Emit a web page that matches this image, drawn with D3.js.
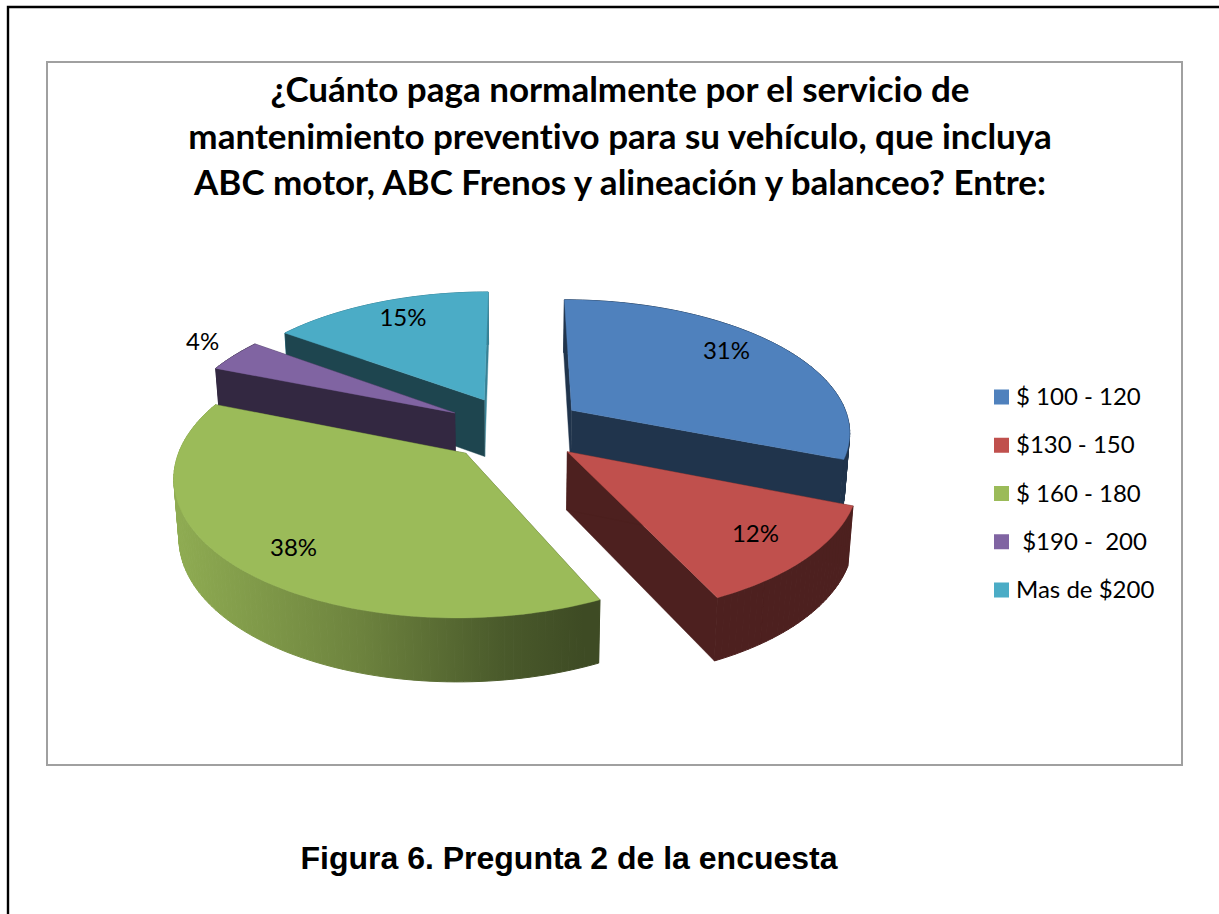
<!DOCTYPE html>
<html><head><meta charset="utf-8">
<script src="https://cdn.jsdelivr.net/npm/d3@7/dist/d3.min.js"></script>
<style>html,body{margin:0;padding:0;background:#fff;overflow:hidden}svg{display:block}text{white-space:pre;font-variant-ligatures:none}</style>
</head><body><svg id="c" width="1219" height="914"></svg>
<script>
const categories = ["$ 100 - 120", "$130 - 150", "$ 160 - 180", " $190 -  200", "Mas de $200"];
const values = [31, 12, 38, 4, 15];
const colors = ["#4f81bd", "#c0504d", "#9bbb59", "#8064a2", "#4bacc6"];
const rimShades = [0.4, 0.4, 0.7, 0.4, 0.75];
const labelRadii = [0.7, 0.9, 0.9, 1.07, 0.66];
const labelNudgeX = [8, -25, 30, -17, -9];
const labelNudgeY = [-12, -12, -7, -10, -15];
const titleLines = ["¿Cuánto paga normalmente por el servicio de",
  "mantenimiento preventivo para su vehículo, que incluya",
  "ABC motor, ABC Frenos y alineación y balanceo? Entre:"];
const caption = "Figura 6. Pregunta 2 de la encuesta";

const svg = d3.select("#c");
const FONT = "Lato, 'Open Sans', sans-serif";
const explode = 0.25, persp = 0.149, depth = 57.5, cx = 515;
const xS = d3.scaleLinear().domain([-1, 1]).range([cx - 279.5, cx + 279.5]);
const yS = d3.scaleLinear().domain([-1, 1]).range([428.5 + 132, 428.5 - 132]);
function proj(X, Y, z) {
  const w = 1 + persp * Y;
  const px = xS(X / w), py = yS(Y / w);
  return z ? [cx + (px - cx) * 0.985, py + depth * Math.pow(w, -0.55)] : [px, py];
}
const shade = (c, k) => { const r = d3.rgb(c); return d3.rgb(r.r * k, r.g * k, r.b * k).formatHex(); };

// frame
svg.append("path").attr("d", "M8 914V7H1219").attr("fill", "none").attr("stroke", "#000").attr("stroke-width", 2.4);
svg.append("rect").attr("x", 47).attr("y", 62).attr("width", 1135).attr("height", 703)
  .attr("fill", "#fff").attr("stroke", "#a0a0a0").attr("stroke-width", 2);

// title
svg.append("g").selectAll("text").data(titleLines).join("text")
  .attr("x", 620).attr("y", (d, i) => 102 + i * 46.5).attr("text-anchor", "middle")
  .attr("font-family", FONT).attr("font-weight", 700).attr("font-size", 35).attr("fill", "#000").text(d => d);

// gradient for rim
const defs = svg.append("defs");
const grad = defs.append("linearGradient").attr("id", "rimGreen").attr("gradientUnits", "userSpaceOnUse")
  .attr("x1", 175).attr("x2", 605).attr("y1", 0).attr("y2", 0);
[[0, 0.92], [0.43, 0.7], [0.76, 0.48], [0.95, 0.4], [1, 0.4]].forEach(([o, k]) =>
  grad.append("stop").attr("offset", o).attr("stop-color", shade(colors[2], k)));

const pie = d3.pie().sort(null).value(d => d);
const arcs = pie(values).map((a, i) => {
  const mid = (a.startAngle + a.endAngle) / 2;
  return { ...a, i, mid, ox: explode * Math.sin(mid), oy: explode * Math.cos(mid) };
});
const line = d3.line();
const fmt = pts => line(pts) + "Z";

[...arcs].sort((a, b) => Math.cos(b.mid) - Math.cos(a.mid)).forEach(s => {
  const g = svg.append("g");
  const c = colors[s.i];
  const n = Math.max(8, Math.round((s.endAngle - s.startAngle) * 40));
  const thetas = d3.range(n + 1).map(k => s.startAngle + (s.endAngle - s.startAngle) * k / n);
  const rimT = thetas.map(t => proj(s.ox + Math.sin(t), s.oy + Math.cos(t), false));
  const rimB = thetas.map(t => proj(s.ox + Math.sin(t), s.oy + Math.cos(t), true));
  const apexT = proj(s.ox, s.oy, false), apexB = proj(s.ox, s.oy, true);
  const dark = shade(c, 0.4);
  const add = (pts, fill, sw = 0.4) => g.append("path").attr("d", fmt(pts)).attr("fill", fill)
    .attr("stroke", fill).attr("stroke-width", sw);
  // outer rim, one quad per step so the silhouette stays straight; stroke closes the seams
  const rimFill = s.i === 2 ? "url(#rimGreen)" : shade(c, rimShades[s.i]);
  const drawRim = () => d3.range(n).forEach(k => add([rimT[k], rimT[k + 1], rimB[k + 1], rimB[k]], rimFill, 1));
  const endLit = Math.sin(s.endAngle + Math.PI / 2) > 0.9;
  const backFacing = Math.cos(s.mid) > 0;
  if (backFacing) drawRim();
  add([apexT, rimT[n], rimB[n], apexB], endLit ? shade(c, 0.75) : dark);
  add([apexT, rimT[0], rimB[0], apexB], dark);
  if (!backFacing) drawRim();
  // top
  add([apexT, ...rimT], c);
});

// percent labels
const labelPos = d => proj(d.ox + labelRadii[d.i] * Math.sin(d.mid), d.oy + labelRadii[d.i] * Math.cos(d.mid), false);
svg.append("g").selectAll("text").data(arcs).join("text")
  .attr("x", d => labelPos(d)[0] + labelNudgeX[d.i])
  .attr("y", d => labelPos(d)[1] + 8 + labelNudgeY[d.i])
  .attr("text-anchor", "middle").attr("font-family", FONT).attr("font-size", 24).attr("fill", "#000")
  .text(d => d.value + "%");

// legend
const ly = d3.scalePoint().domain(d3.range(categories.length)).range([397, 590]);
const leg = svg.append("g").selectAll("g").data(categories).join("g")
  .attr("transform", (d, i) => `translate(994,${ly(i)})`);
leg.append("rect").attr("x", 0).attr("y", -7.5).attr("width", 15).attr("height", 15).attr("fill", (d, i) => colors[i]);
leg.append("text").attr("x", 22).attr("y", 8).attr("font-family", FONT).attr("font-size", 24).attr("fill", "#000")
  .attr("xml:space", "preserve").text(d => d);

// caption
svg.append("text").attr("x", 569).attr("y", 869).attr("text-anchor", "middle")
  .attr("font-family", "'Liberation Sans', Arial, sans-serif").attr("font-weight", 700).attr("font-size", 32)
  .attr("fill", "#000").text(caption);
</script></body></html>
